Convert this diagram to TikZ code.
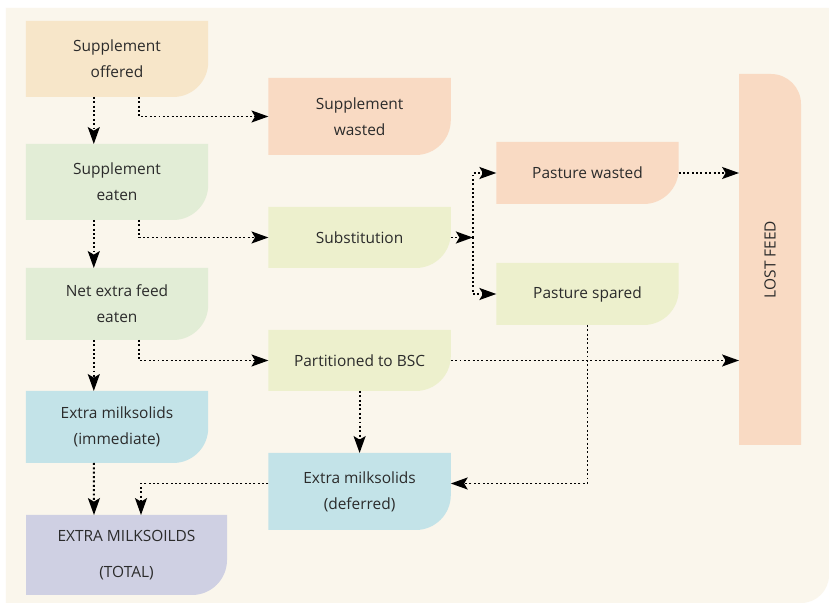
\documentclass[tikz,border=0pt]{standalone}
\usepackage{fontspec}
\setmainfont{Open Sans}
\usetikzlibrary{arrows.meta}
\definecolor{bgcream}{HTML}{FAF6EC}
\definecolor{txtgray}{HTML}{2B2B2B}
\definecolor{offercol}{HTML}{F7E6C9}
\definecolor{wastecol}{HTML}{F9DAC3}
\definecolor{eatcol}{HTML}{E2EDD6}
\definecolor{sparecol}{HTML}{EDF0CD}
\definecolor{milkcol}{HTML}{C3E3E8}
\definecolor{totalcol}{HTML}{CFD0E3}

\begin{document}
\begin{tikzpicture}[>={Stealth[length=12pt,width=8.5pt,inset=2.5pt]},
	flow/.style={->,line width=1.4pt,dash pattern=on 1.4pt off 1.7pt},
	box/.style={minimum width=4.56cm,inner sep=2pt,outer sep=0pt,align=center,
		text=txtgray,font=\fontsize{11}{18.5}\selectfont,
		path picture={\fill[#1](path picture bounding box.north west)--(path picture bounding box.north east)
			[rounded corners=0.875cm]--(path picture bounding box.south east)
			[sharp corners]--(path picture bounding box.south west)--cycle;}},
	lostbox/.style={minimum width=1.55cm,minimum height=9.275cm,inner sep=2pt,outer sep=0pt,
		text=txtgray,font=\fontsize{11}{18.5}\selectfont,
		path picture={\fill[wastecol](path picture bounding box.south west)--(path picture bounding box.north west)
			[rounded corners=0.75cm]--(path picture bounding box.north east)
			[sharp corners]--(path picture bounding box.south east)--cycle;}}]
			\useasboundingbox(0,0)rectangle(20.725,15.125);
			\fill[white](0,0)rectangle(20.725,15.125);
			\fill[bgcream](0.15,14.925)--(20.725,14.925)[rounded corners=0.7cm]--(20.725,0.05)[sharp corners]--(0.15,0.05)--cycle;
			\node[box=offercol,minimum height=1.9cm](offered)at(2.925,13.65){Supplement\\offered};
			\node[box=wastecol,minimum height=1.925cm](swasted)at(8.99,12.2125){Supplement\\wasted};
			\node[box=eatcol,minimum height=1.9cm](eaten)at(2.925,10.575){Supplement\\eaten};
			\node[box=sparecol,minimum height=1.525cm](subst)at(8.99,9.1875){Substitution};
			\node[box=wastecol,minimum height=1.55cm](pwasted)at(14.6875,10.8){Pasture wasted};
			\node[box=sparecol,minimum height=1.55cm](pspared)at(14.6875,7.775){Pasture spared};
			\node[lostbox](lost)at(19.25,8.6375){\rotatebox{90}{LOST FEED}};
			\node[box=eatcol,minimum height=1.8cm](net)at(2.925,7.525){Net extra feed\\eaten};
			\node[box=sparecol,minimum height=1.525cm](part)at(8.99,6.1125){Partitioned to BSC};
			\node[box=milkcol,minimum height=1.8cm](immed)at(2.925,4.45){Extra milksolids\\(immediate)};
			\node[box=milkcol,minimum height=1.925cm](defer)at(8.99,2.8375){Extra milksolids\\(deferred)};
			\node[box=totalcol,minimum width=5.025cm,minimum height=2cm](total)at(3.1625,1.25){EXTRA MILKSOILDS\\[7pt](TOTAL)};
			\draw[flow]([xshift=1.7cm]offered.south west)--([xshift=1.7cm]eaten.north west);
			\draw[flow]([xshift=2.825cm]offered.south west)|-(swasted.west);
			\draw[flow]([xshift=1.7cm]eaten.south west)--([xshift=1.7cm]net.north west);
			\draw[flow]([xshift=2.825cm]eaten.south west)|-(subst.west);
			\coordinate(split)at([xshift=0.55cm]subst.east);
			\draw[flow](subst.east)--(split);
			\draw[flow](split)|-(pwasted.west);
			\draw[flow](split)|-(pspared.west);
			\draw[flow](pwasted.east)--(pwasted.east-|lost.west);
			\draw[flow]([xshift=1.7cm]net.south west)--([xshift=1.7cm]immed.north west);
			\draw[flow]([xshift=2.825cm]net.south west)|-(part.west);
			\draw[flow](part.east)--(part.east-|lost.west);
			\draw[flow](part.south)--(defer.north);
			\draw[flow](pspared.south)|-([yshift=0.2cm]defer.east);
			\draw[flow]([xshift=1.7cm]immed.south west)--([xshift=1.7cm]total.north west);
			\draw[flow]([yshift=0.2cm]defer.west)-|([xshift=2.875cm]total.north west);
		\end{tikzpicture}
\end{document}
